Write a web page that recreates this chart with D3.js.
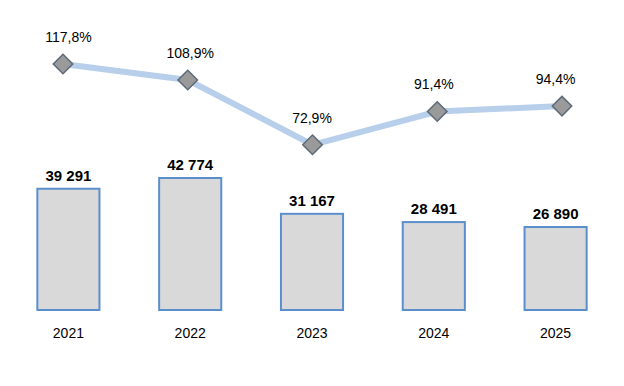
<!DOCTYPE html>
<html><head><meta charset="utf-8">
<script src="https://cdn.jsdelivr.net/npm/d3@7"></script>
<style>body{margin:0;background:#fff}svg{display:block}text{font-family:"Liberation Sans",Arial,sans-serif}</style>
</head><body><svg id="c" width="624" height="386"></svg>
<script>
const years = ["2021","2022","2023","2024","2025"];
const volumes = [39291, 42774, 31167, 28491, 26890];
const volumeLabels = ["39 291","42 774","31 167","28 491","26 890"];
const percents = [117.8, 108.9, 72.9, 91.4, 94.4];
const percentLabels = ["117,8%","108,9%","72,9%","91,4%","94,4%"];

const svg = d3.select("#c");
const x = d3.scaleBand().domain(years).range([7.5, 616.5]).paddingInner(0.49).paddingOuter(0.245);
const xl = d3.scalePoint().domain(years).range([63, 562]);
const y = d3.scaleLinear().domain([0, 42774]).range([310, 178]);
const yp = d3.scaleLinear().domain([70, 120]).range([150, 60]);

svg.selectAll("rect.bar").data(years).join("rect")
  .attr("x", d => x(d)).attr("width", x.bandwidth())
  .attr("y", (d,i) => y(volumes[i])).attr("height", (d,i) => y(0) - y(volumes[i]))
  .attr("fill", "#d9d9d9").attr("stroke", "#5b8fcc").attr("stroke-width", 2);

svg.selectAll("text.vl").data(years).join("text")
  .attr("x", d => x(d) + x.bandwidth()/2).attr("y", (d,i) => y(volumes[i]) - 8)
  .attr("text-anchor", "middle").attr("font-size", 15).attr("font-weight", "bold").attr("fill", "#000")
  .text((d,i) => volumeLabels[i]);

svg.selectAll("text.yr").data(years).join("text")
  .attr("x", d => x(d) + x.bandwidth()/2).attr("y", 338)
  .attr("text-anchor", "middle").attr("font-size", 14).attr("fill", "#000")
  .text(d => d);

const line = d3.line().x((d,i) => xl(years[i])).y(d => yp(d));
svg.append("path").datum(percents).attr("d", line)
  .attr("fill", "none").attr("stroke", "#b7cfea").attr("stroke-width", 6);

svg.selectAll("path.dm").data(percents).join("path")
  .attr("d", d3.symbol().type(d3.symbolSquare).size(190))
  .attr("transform", (d,i) => `translate(${xl(years[i])},${yp(d)}) rotate(45)`)
  .attr("fill", "#9a9a9a").attr("stroke", "#5e6b7a").attr("stroke-width", 1.5);

svg.selectAll("text.pl").data(percents).join("text")
  .attr("x", (d,i) => x(years[i]) + x.bandwidth()/2).attr("y", d => yp(d) - 22)
  .attr("text-anchor", "middle").attr("font-size", 14).attr("fill", "#000")
  .text((d,i) => percentLabels[i]);
</script></body></html>
